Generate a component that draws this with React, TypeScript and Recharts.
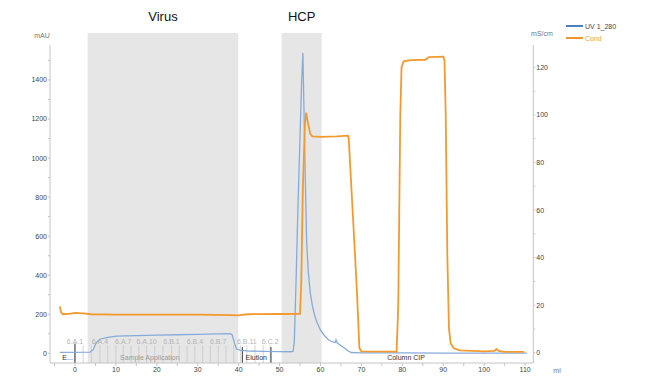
import React from 'react';
import { LineChart, Line, XAxis, YAxis, ReferenceArea, ReferenceLine, ReferenceDot } from 'recharts';

// UV 1_280 (mAU) vs volume (ml)
const uvMl = [-3.7, 3.7, 4.5, 5.2, 6.1, 8, 10.2, 15, 20, 25, 30, 35, 37.9, 38.4, 39, 39.5, 40.5, 42.8, 46, 50, 52.6, 53.3, 53.6, 54.0, 54.5, 55.0, 55.4, 55.7, 56.1, 56.6, 57, 57.5, 58, 58.5, 59, 60, 61, 62, 63, 63.6, 63.8, 64.1, 65, 66, 66.8, 67.5, 70, 80, 90, 100, 110.4];
const uvMau = [5, 6, 20, 55, 72, 82, 88, 91, 93, 95, 97, 99, 100, 95, 50, 22, 15, 11, 10, 9, 8, 10, 60, 350, 760, 1110, 1400, 1538, 1090, 580, 420, 310, 245, 200, 165, 118, 90, 68, 58, 55, 68, 52, 40, 25, 12, 4, 2, 2, 1, 1, 1];

// Cond (mS/cm) vs volume (ml)
const condMl = [-3.7, -3.4, -3, -1, 0, 2, 4, 10, 20, 30, 38, 40, 42, 50, 55, 55.3, 55.7, 56.2, 56.5, 57, 57.5, 58, 60, 64, 66.7, 66.9, 68, 68.9, 69.5, 70, 78.6, 79, 79.5, 79.8, 80.3, 82, 85.6, 86.5, 90, 90.3, 90.6, 91, 91.4, 91.8, 92.5, 94, 100, 102.5, 103, 103.5, 105, 109.8];
const condVal = [19.5, 17, 16.2, 16.5, 16.8, 16.6, 16.2, 16, 16, 16, 15.8, 15.7, 16.2, 16.3, 16.4, 30, 70, 96, 101, 96, 92, 91, 90.8, 91, 91.3, 90, 55, 26, 2, 0.6, 0.5, 20, 100, 120, 122.5, 123, 123.2, 124.3, 124.5, 123, 100, 40, 10, 4, 2, 1, 0.6, 0.8, 1.6, 0.8, 0.4, 0.4];

const xTicks = [-5, 0, 5, 10, 15, 20, 25, 30, 35, 40, 45, 50, 55, 60, 65, 70, 75, 80, 85, 90, 95, 100, 105, 110];
const leftTicks = [0, 100, 200, 300, 400, 500, 600, 700, 800, 900, 1000, 1100, 1200, 1300, 1400, 1500];
const rightTicks = [0, 10, 20, 30, 40, 50, 60, 70, 80, 90, 100, 110, 120];

// fractions
const fractionMl = [0, 2, 4, 6.1, 8, 10, 11.8, 13.7, 15.6, 17.5, 19.5, 21.5, 23.6, 25.5, 27.4, 29.3, 31.2, 33.1, 35, 36.9, 38.8, 40.4, 42, 44, 46, 47.7];
const fractionLabelMl = [0, 6.1, 11.8, 17.5, 23.6, 29.3, 35, 42, 47.7];
const fractionLabels = ['6.A.1', '6.A.4', '6.A.7', '6.A.10', '6.B.1', '6.B.4', '6.B.7', '6.B.11', '6.C.2'];

// events
const eventLineMl = [0, 40.9, 47.9];
const eventLabelMl = [-1.8, 18.3, 44.3, 80.9];
const eventLabels = ['E...', 'Sample Application', 'Elution', 'Column CIP'];
const eventLabelColors = ['#333', '#9a9a9a', '#333', '#333'];

// shaded regions
const regionNames = ['Virus', 'HCP'];
const regionStart = [3.1, 50.5];
const regionEnd = [39.9, 60.3];

const uvData = uvMl.map((x, i) => ({ x, y: uvMau[i] }));
const condData = condMl.map((x, i) => ({ x, y: condVal[i] }));

const FONT = '"Liberation Sans", Arial, sans-serif';
const axisStroke = '#c4c4c4';

export default function App() {
  return (
    <div style={{ position: 'absolute', left: 0, top: 0, width: 650, height: 377, background: '#fff', fontFamily: FONT }}>
      <LineChart width={650} height={377} margin={{ top: 45, right: 76.7, bottom: 2, left: 10 }}>
        <XAxis
          type="number"
          dataKey="x"
          domain={[-6.1, 112]}
          ticks={xTicks}
          interval={0}
          allowDataOverflow
          height={12}
          tickSize={3}
          tickMargin={1}
          tick={{ fontSize: 7, fill: '#444', fontFamily: FONT }}
          tickFormatter={(v: number) => (v % 10 === 0 ? String(v) : '')}
          axisLine={{ stroke: axisStroke }}
          tickLine={{ stroke: axisStroke }}
        />
        <YAxis
          yAxisId="left"
          domain={[-49.7, 1579]}
          ticks={leftTicks}
          interval={0}
          allowDataOverflow
          width={40}
          tickSize={2}
          tickMargin={1}
          tick={{ fontSize: 7, fill: '#444', fontFamily: FONT }}
          tickFormatter={(v: number) => (v % 200 === 0 ? String(v) : '')}
          axisLine={{ stroke: axisStroke }}
          tickLine={{ stroke: axisStroke }}
        />
        <YAxis
          yAxisId="right"
          orientation="right"
          domain={[-4.3, 129.4]}
          ticks={rightTicks}
          interval={0}
          allowDataOverflow
          width={40}
          tickSize={2}
          tickMargin={1}
          tick={{ fontSize: 7, fill: '#444', fontFamily: FONT }}
          tickFormatter={(v: number) => (v % 20 === 0 ? String(v) : '')}
          axisLine={{ stroke: axisStroke }}
          tickLine={{ stroke: axisStroke }}
        />
        {regionNames.map((name, i) => (
          <ReferenceArea
            key={name}
            yAxisId="left"
            x1={regionStart[i]}
            x2={regionEnd[i]}
            y1={-49.7}
            y2={1641}
            ifOverflow="visible"
            fill="#e6e6e6"
            fillOpacity={1}
            stroke="none"
            label={{ value: name, position: 'top', offset: 12, fontSize: 13, fill: '#111', fontFamily: FONT }}
          />
        ))}
        {fractionMl.map((x, i) => (
          <ReferenceLine
            key={'f' + i}
            yAxisId="left"
            segment={[{ x, y: -49.7 }, { x, y: 42 }]}
            stroke="#c9c9c9"
            strokeWidth={0.8}
            ifOverflow="visible"
          />
        ))}
        {eventLineMl.map((x, i) => (
          <ReferenceLine
            key={'e' + i}
            yAxisId="left"
            segment={[{ x, y: -49.7 }, { x, y: i === 0 ? 50 : 32 }]}
            stroke="#333"
            strokeWidth={1}
            ifOverflow="visible"
          />
        ))}
        {fractionLabelMl.map((x, i) => (
          <ReferenceDot
            key={'fl' + i}
            yAxisId="left"
            x={x}
            y={58}
            r={1}
            fill="none"
            stroke="none"
            ifOverflow="visible"
            label={{ value: fractionLabels[i], position: 'center', fontSize: 7, fill: '#b4b4b4', fontFamily: FONT }}
          />
        ))}
        {eventLabelMl.map((x, i) => (
          <ReferenceDot
            key={'el' + i}
            yAxisId="left"
            x={x}
            y={-21.5}
            r={1}
            fill="none"
            stroke="none"
            ifOverflow="visible"
            label={{ value: eventLabels[i], position: 'center', fontSize: 7, fill: eventLabelColors[i], fontFamily: FONT }}
          />
        ))}
        <Line
          yAxisId="left"
          data={uvData}
          dataKey="y"
          type="linear"
          stroke="#86abda"
          strokeWidth={1.3}
          dot={false}
          isAnimationActive={false}
        />
        <Line
          yAxisId="right"
          data={condData}
          dataKey="y"
          type="linear"
          stroke="#f39a2e"
          strokeWidth={1.8}
          dot={false}
          isAnimationActive={false}
        />
      </LineChart>
      <div style={{ position: 'absolute', left: 42, top: 35, transform: 'translate(-50%,-50%)', fontSize: 7, color: '#777', whiteSpace: 'nowrap' }}>mAU</div>
      <div style={{ position: 'absolute', left: 542, top: 33, transform: 'translate(-50%,-50%)', fontSize: 7, color: '#777', whiteSpace: 'nowrap' }}>mS/cm</div>
      <div style={{ position: 'absolute', left: 557, top: 370, transform: 'translate(-50%,-50%)', fontSize: 7, color: '#777', whiteSpace: 'nowrap' }}>ml</div>
      <div style={{ position: 'absolute', left: 566, top: 25, width: 17, height: 2, background: '#4d7fc0' }} />
      <div style={{ position: 'absolute', left: 585, top: 26, transform: 'translateY(-50%)', fontSize: 7, color: '#444', whiteSpace: 'nowrap' }}>UV 1_280</div>
      <div style={{ position: 'absolute', left: 566, top: 37, width: 17, height: 2, background: '#f0962a' }} />
      <div style={{ position: 'absolute', left: 585, top: 38, transform: 'translateY(-50%)', fontSize: 7, color: '#f0a040', whiteSpace: 'nowrap' }}>Cond</div>
    </div>
  );
}
